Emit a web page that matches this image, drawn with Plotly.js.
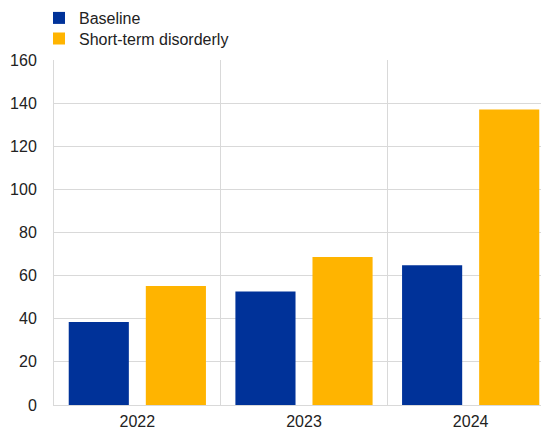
<!DOCTYPE html>
<html><head><meta charset="utf-8">
<script src="https://cdn.plot.ly/plotly-3.0.1.min.js"></script>
<style>html,body{margin:0;padding:0;overflow:hidden;background:#fff}</style>
</head><body><div id="chart"></div>
<script>
const years = ["2022", "2023", "2024"];
const baseline = [38.5, 52.6, 64.8];
const disorderly = [55.2, 68.6, 137.1];
const seriesNames = ["Baseline", "Short-term disorderly"];
const yTicks = [0, 20, 40, 60, 80, 100, 120, 140, 160];

const traces = [
  {type: "bar", x: years, y: baseline, name: seriesNames[0], marker: {color: "#003299"}, legend: "legend"},
  {type: "bar", x: years, y: disorderly, name: seriesNames[1], marker: {color: "#FFB400"}, legend: "legend2"}
];
const legendBase = {xanchor: "left", yanchor: "middle", orientation: "v",
                    font: {size: 16, color: "#222"}, bgcolor: "rgba(0,0,0,0)", itemwidth: 30};
const layout = {
  width: 560, height: 430,
  margin: {l: 54, r: 6, t: 60, b: 25, autoexpand: false},
  paper_bgcolor: "#fff", plot_bgcolor: "#fff",
  font: {family: "Liberation Sans, Arial, sans-serif", size: 16, color: "#222"},
  barmode: "group", bargap: 0.075, bargroupgap: 0.22,
  showlegend: true,
  legend: Object.assign({}, legendBase, {x: -0.03, y: 1.1217}),
  legend2: Object.assign({}, legendBase, {x: -0.03, y: 1.0623}),
  xaxis: {type: "category", tickson: "boundaries", showgrid: true, gridcolor: "#d9d9d9", gridwidth: 1,
          ticks: "", showline: true, linecolor: "#d9d9d9", zeroline: false, fixedrange: true,
          ticklabelstandoff: 2},
  yaxis: {range: [0, 160], tickvals: yTicks, showgrid: true, gridcolor: "#d9d9d9", gridwidth: 1,
          zeroline: false, showline: true, linecolor: "#d9d9d9", ticks: "", ticklabelstandoff: 13,
          fixedrange: true}
};
Plotly.newPlot("chart", traces, layout, {displayModeBar: false, staticPlot: true});
</script></body></html>
